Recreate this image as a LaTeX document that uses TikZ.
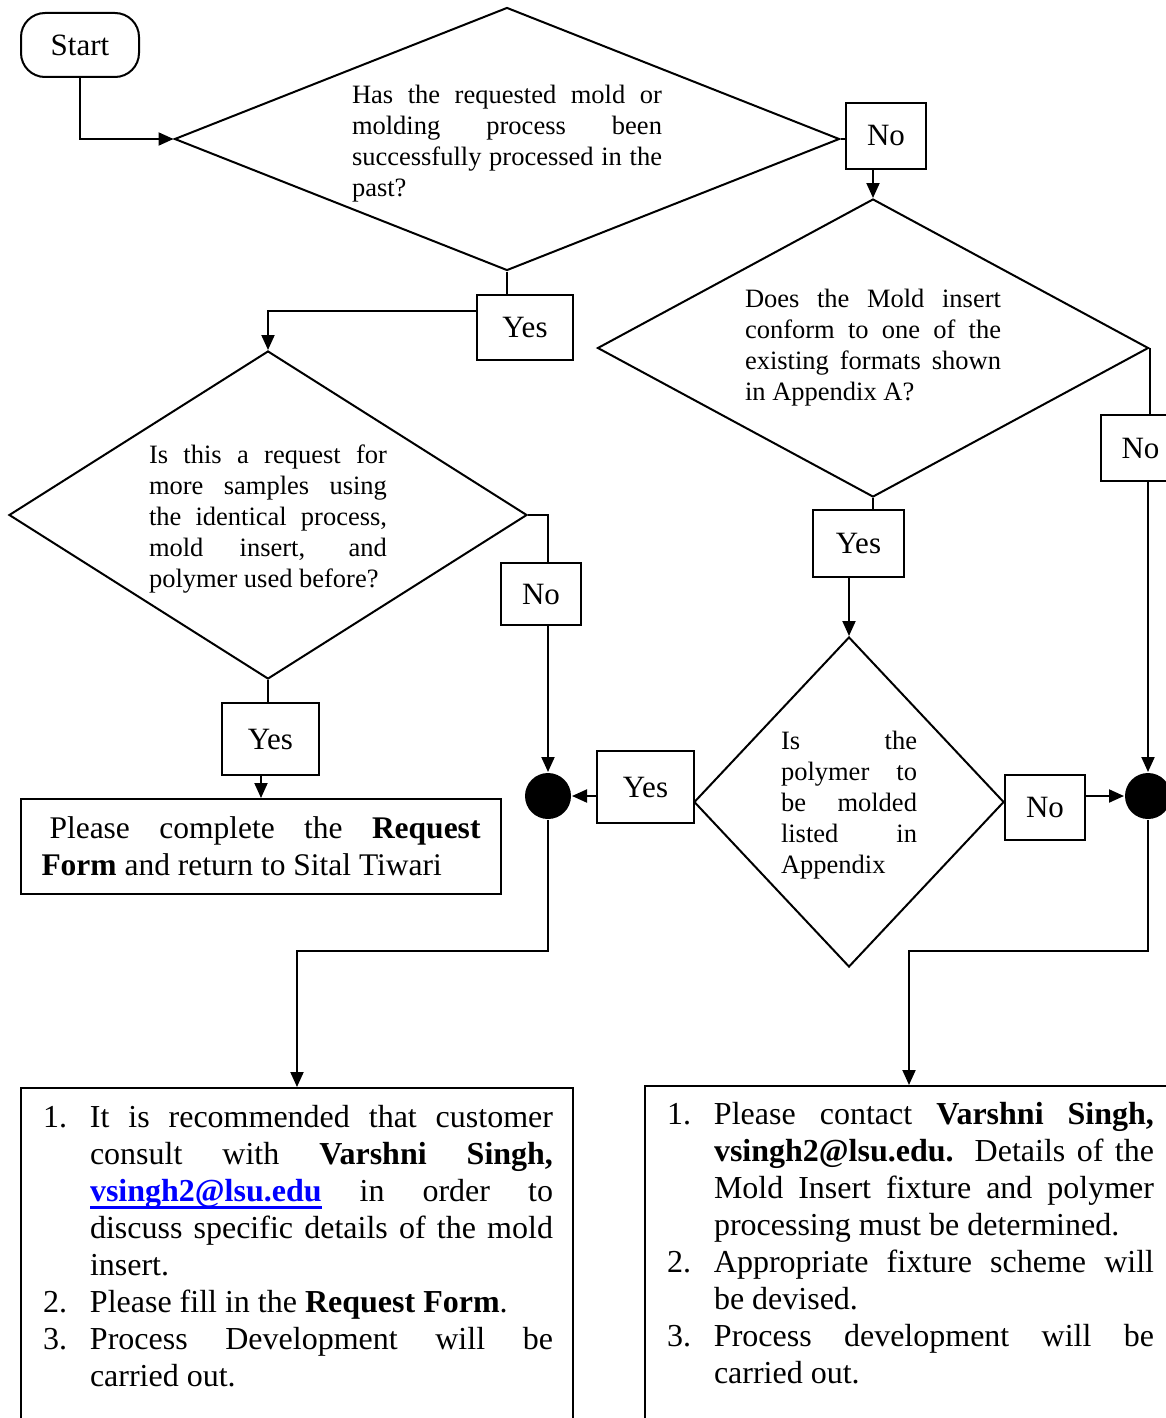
\documentclass[tikz,border=0pt]{standalone}
\usepackage{fontspec}
\setmainfont{Liberation Serif}
\usetikzlibrary{shapes.geometric,arrows.meta}
\newcommand{\litem}[2]{\hangindent=47pt\hangafter=1\noindent\makebox[47pt][l]{#1}#2\par}
\newsavebox{\ulbox}
\newcommand{\thickul}[1]{\sbox{\ulbox}{#1}\rlap{\usebox{\ulbox}}\rule[-8pt]{\wd\ulbox}{3pt}}
\begin{document}
\begin{tikzpicture}[x=1pt,y=-1pt,
  line width=2pt,
  lbl/.style={draw, rectangle, inner sep=0pt, font=\fontsize{31}{36}\selectfont},
  dec/.style={draw, diamond, inner sep=0pt, align=justify, font=\fontsize{26.5}{31}\selectfont},
  arr/.style={-{Triangle[length=15pt,width=13pt]}},
  dot/.style={circle, fill=black, draw=none, minimum size=46pt, inner sep=0pt},
  listtext/.style={anchor=north west, inner sep=0pt, align=justify, font=\fontsize{32}{37}\selectfont},
]
\useasboundingbox (0,0) rectangle (1166,1418);

% start
\node[draw, rounded corners=24pt, minimum width=118pt, minimum height=64pt, inner sep=0pt,
      font=\fontsize{31}{36}\selectfont] (start) at (80,45) {Start\hspace{10pt}};

% decisions
\node[dec, text width=310pt, minimum width=665pt, minimum height=263pt, aspect=2.53] (d1) at (507,139)
  {\rule{0pt}{27pt}Has the requested mold or\linebreak molding process been\linebreak successfully processed in the\linebreak past?};
\node[dec, text width=256pt, minimum width=551pt, minimum height=298pt, aspect=1.85] (d2) at (873,348)
  {Does the Mold insert\linebreak conform to one of the\linebreak existing formats shown\linebreak in Appendix A?};
\node[dec, text width=238pt, minimum width=518pt, minimum height=328pt, aspect=1.58] (d3) at (268,515)
  {\rule{0pt}{27pt}Is this a request for\linebreak more samples using\linebreak the identical process,\linebreak mold insert, and\linebreak polymer used before?};
\node[dec, text width=136pt, minimum width=310pt, minimum height=330pt, aspect=0.94] (d4) at (849,802)
  {\rule{0pt}{25pt}Is the\linebreak polymer to\linebreak be molded\linebreak listed in\linebreak Appendix};

% labels
\node[lbl, minimum width=80pt, minimum height=66pt] (no1) at (886,136) {No};
\node[lbl, minimum width=96pt, minimum height=65pt] (yes1) at (525,327.5) {Yes};
\node[lbl, minimum width=79pt, minimum height=66pt] (no2) at (1140.5,448) {No};
\node[lbl, minimum width=91pt, minimum height=67pt] (yes2) at (858.5,543.5) {Yes};
\node[lbl, minimum width=80pt, minimum height=62pt] (no3) at (541,594) {No};
\node[lbl, minimum width=97pt, minimum height=72pt] (yes3) at (270.5,739) {Yes};
\node[lbl, minimum width=97pt, minimum height=72pt] (yes4) at (645.5,787) {Yes};
\node[lbl, minimum width=80pt, minimum height=65pt] (no4) at (1045,807.5) {No};

% junction dots
\node[dot] (dotL) at (548,796) {};
\node[dot] (dotR) at (1148,796) {};

% request box
\node[draw, minimum width=480pt, minimum height=95pt, inner sep=0pt, text width=439pt, align=justify,
      font=\fontsize{31.5}{37}\selectfont] (req) at (261,846.5)
  {\hspace*{8pt}Please complete the \textbf{Request}\linebreak\textbf{Form} and return to Sital Tiwari};

% bottom boxes
\node[draw, minimum width=552pt, minimum height=360pt, inner sep=0pt, anchor=north] (box1) at (297,1087) {};
\node[draw, minimum width=528pt, minimum height=360pt, inner sep=0pt, anchor=north] (box2) at (909,1085) {};

\node[listtext, text width=510pt] (t1) at (42,1104) {%
\litem{1.}{It is recommended that customer\linebreak consult with \textbf{Varshni Singh,}\linebreak \textcolor{blue}{\thickul{\textbf{vsingh2@lsu.edu}}} in order to\linebreak discuss specific details of the mold\linebreak insert.}%
\litem{2.}{Please fill in the \textbf{Request Form}.}%
\litem{3.}{Process Development will be\linebreak carried out.}};

\node[listtext, text width=487pt] (t2) at (666,1101) {%
\litem{1.}{Please contact \textbf{Varshni Singh,}\linebreak \textbf{vsingh2@lsu.edu.} Details of the\linebreak Mold Insert fixture and polymer\linebreak processing must be determined.}%
\litem{2.}{Appropriate fixture scheme will\linebreak be devised.}%
\litem{3.}{Process development will be\linebreak carried out.}};

% connectors
\draw[arr] (start.south) |- (d1.west);
\draw (d1.east) -- (d1.east -| no1.west);
\draw[arr] (no1.south -| d2.north) -- (d2.north);
\draw (d1.south) -- (d1.south |- yes1.north);
\draw[arr] ([yshift=16.5pt]yes1.west) -| (d3.north);
\draw (d3.east) -| (dotL |- no3.north);
\draw[arr] (dotL |- no3.south) -- (dotL.north);
\draw (d3.south) -- (d3.south |- yes3.north);
\draw[arr] (yes3.south -| req.north) -- (req.north);
\draw[arr] (yes4.west |- dotL) -- (dotL.east);
\draw (d4.west) -- (d4.west -| yes4.east);
\draw (d2.south) -- (d2.south |- yes2.north);
\draw[arr] (yes2.south -| d4.north) -- (d4.north);
\draw (d4.east) -- (d4.east -| no4.west);
\draw[arr] (no4.east |- dotR) -- (dotR.west);
\draw (d2.east) -- (d2.east |- no2.north);
\draw[arr] (dotR |- no2.south) -- (dotR.north);
\coordinate (jL) at (548,951);
\coordinate (jR) at (1148,951);
\draw[arr] (dotL.south) -- (jL) -| (box1.north);
\draw[arr] (dotR.south) -- (jR) -| (box2.north);
\end{tikzpicture}
\end{document}
